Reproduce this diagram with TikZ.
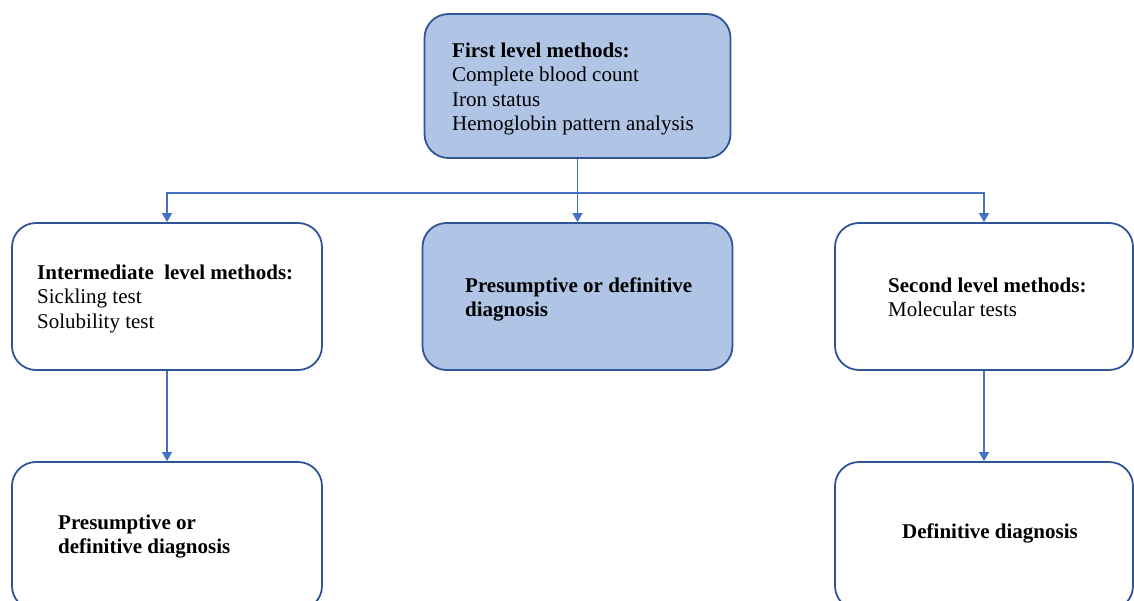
\documentclass[tikz,border=0pt]{standalone}
\usepackage{fontspec}
\setmainfont{Liberation Serif}
\usetikzlibrary{arrows.meta}
\definecolor{boxline}{RGB}{47,85,151}
\definecolor{boxfill}{RGB}{176,196,230}
\definecolor{arrline}{RGB}{68,114,196}
\tikzset{
  box/.style={draw=boxline, line width=1.8pt, rounded corners=24pt, fill=white, inner sep=0pt},
  shaded/.style={box, fill=boxfill},
  txt/.style={anchor=north west, inner sep=0pt, align=left, font=\fontsize{21}{24.5}\selectfont},
  conn/.style={draw=arrline, line width=1.1pt},
  arr/.style={conn, -{Triangle[width=10pt,length=9pt]}}
}
\begin{document}
\begin{tikzpicture}[x=1pt,y=-1pt]
\useasboundingbox (0,0) rectangle (1134,601);
\clip (0,0) rectangle (1134,601);
% boxes
\node[shaded, minimum width=306pt, minimum height=144pt] (top) at (577.5,86) {};
\node[box, minimum width=310pt, minimum height=147pt] (left) at (167,296.5) {};
\node[shaded, minimum width=310pt, minimum height=147pt] (mid) at (577.5,296.5) {};
\node[box, minimum width=298pt, minimum height=147pt] (right) at (984,296.5) {};
\node[box, minimum width=310pt, minimum height=148pt] (bl) at (167,536) {};
\node[box, minimum width=298pt, minimum height=148pt] (br) at (984,536) {};
% texts
\node[txt] (ttop) at (452,42.5) {\textbf{First level methods:}\\Complete blood count\\Iron status\\Hemoglobin pattern analysis};
\node[txt] (tleft) at (37,264.5) {\textbf{Intermediate~ level methods:}\\Sickling test\\Solubility test};
\node[txt] (tmid) at (465,277.5) {\textbf{Presumptive or definitive}\\\textbf{diagnosis}};
\node[txt] (tright) at (888,277.5) {\textbf{Second level methods:}\\Molecular tests};
\node[txt] (tbl) at (58,514.5) {\textbf{Presumptive or}\\\textbf{definitive diagnosis}};
\node[txt] (tbr) at (902,523.5) {\textbf{Definitive diagnosis}};
% connectors
\coordinate (j) at (577.5,193);
\draw[conn] (top.south) -- (j);
\draw[arr] (j) -| (left.north);
\draw[arr] (j) -- (mid.north);
\draw[arr] (j) -| (right.north);
\draw[arr] (left.south) -- (bl.north);
\draw[arr] (right.south) -- (br.north);
\end{tikzpicture}
\end{document}
